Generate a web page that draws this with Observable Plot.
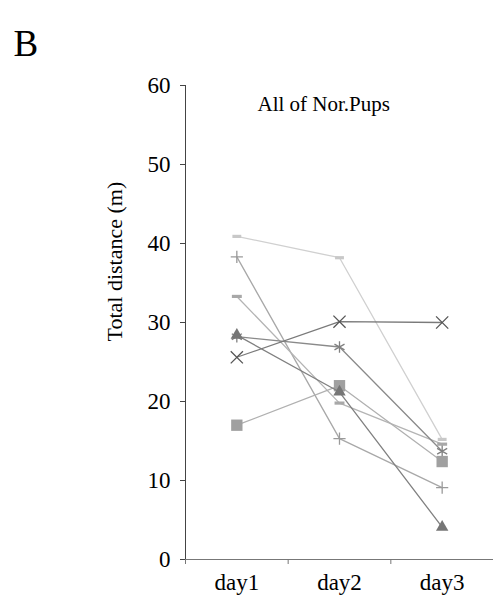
<!DOCTYPE html>
<html><head><meta charset="utf-8">
<script src="https://cdn.jsdelivr.net/npm/d3@7"></script>
<script src="https://cdn.jsdelivr.net/npm/@observablehq/plot@0.6"></script>
<style>body{margin:0;background:#fff}</style>
</head><body><div id="chart"></div>
<script>
const days = ["day1", "day2", "day3"];
const yTicks = [0, 10, 20, 30, 40, 50, 60];
const lightDash = [40.9, 38.2, 15.2];
const plusSeries = [38.3, 15.3, 9.1];
const midDash = [33.3, 19.8, 14.6];
const triangleSeries = [28.4, 21.2, 4.1];
const timesSeries = [25.6, 30.1, 30.0];
const asteriskSeries = [28.2, 26.9, 13.7];
const squareSeries = [17.0, 22.0, 12.4];
const titleText = "All of Nor.Pups";
const panelLabel = "B";
const yLabel = "Total distance (m)";

const dash = {draw(ctx, size) { const s = Math.sqrt(size); ctx.rect(-s / 2, -1.6, s, 3.2); }};

const series = [
  {v: lightDash, line: "#d0d0d0", sym: dash, r: 5.0, fill: "#c8c8c8", stroke: "none"},
  {v: plusSeries, line: "#a8a8a8", sym: "plus", r: 4.0, fill: "none", stroke: "#9a9a9a"},
  {v: midDash, line: "#b4b4b4", sym: dash, r: 5.6, fill: "#a8a8a8", stroke: "none"},
  {v: asteriskSeries, line: "#8a8a8a", sym: "asterisk", r: 5.5, fill: "none", stroke: "#808080"},
  {v: squareSeries, line: "#b0b0b0", sym: "square", r: 6.4, fill: "#a0a0a0", stroke: "none"},
  {v: triangleSeries, line: "#808080", sym: "triangle", r: 4.6, fill: "#767676", stroke: "none"},
  {v: timesSeries, line: "#7a7a7a", sym: "times", r: 5.6, fill: "none", stroke: "#555555"}
];

const marks = [
  Plot.ruleY([0], {stroke: "#777", strokeWidth: 1.2}),
  Plot.ruleX([0.5], {stroke: "#444", strokeWidth: 1}),
  Plot.axisY({ticks: yTicks, tickSize: 5, tickPadding: 10, fontSize: 23, label: null, stroke: "#444"}),
  Plot.axisX({ticks: [1, 2, 3], tickSize: 0, tickPadding: 14, fontSize: 23, label: null, tickFormat: d => days[d - 1]}),
  Plot.axisX({ticks: [0.5, 1.5, 2.5], tickSize: 5, tickFormat: () => "", label: null, stroke: "#777"})
];
for (const s of series) {
  const data = days.map((d, i) => ({x: i + 1, y: s.v[i]}));
  marks.push(Plot.line(data, {x: "x", y: "y", stroke: s.line, strokeWidth: 1.3}));
  marks.push(Plot.dot(data, {x: "x", y: "y", symbol: s.sym, r: s.r, fill: s.fill, stroke: s.stroke, strokeWidth: 1.3}));
}
marks.push(Plot.text([titleText], {frameAnchor: "top-left", dx: 72, dy: 25, textAnchor: "start", lineAnchor: "bottom", fontSize: 21, fill: "#000"}));
marks.push(Plot.text([panelLabel], {frameAnchor: "top-left", dx: -172, dy: -30, textAnchor: "start", lineAnchor: "bottom", fontSize: 37, fill: "#000"}));
marks.push(Plot.text([yLabel], {frameAnchor: "left", rotate: -90, dx: -71, dy: 19, fontSize: 22, fill: "#000"}));

const chart = Plot.plot({
  width: 493, height: 599,
  marginLeft: 185, marginRight: 0, marginTop: 85, marginBottom: 40,
  style: {fontFamily: "'Liberation Serif', 'Times New Roman', serif", color: "#000", background: "#fff"},
  x: {domain: [0.5, 3.5]},
  y: {domain: [0, 60]},
  marks
});
document.getElementById("chart").append(chart);
</script>
</body></html>
